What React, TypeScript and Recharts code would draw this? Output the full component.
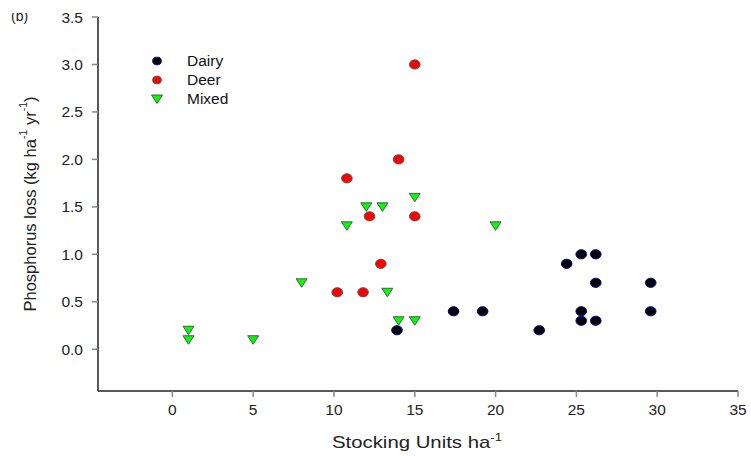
import { ScatterChart, Scatter, XAxis, YAxis, Label } from "recharts";

const FONT = '"Liberation Sans", Arial, sans-serif';

// Dairy farms
const dairyX = [13.9, 17.4, 19.2, 22.7, 24.4, 25.3, 26.2, 26.2, 29.6, 25.3, 29.6, 25.3, 26.2];
const dairyY = [0.2, 0.4, 0.4, 0.2, 0.9, 1.0, 1.0, 0.7, 0.7, 0.4, 0.4, 0.3, 0.3];

// Deer farms
const deerX = [10.8, 12.2, 15.0, 12.9, 10.2, 11.8, 14.0, 15.0];
const deerY = [1.8, 1.4, 1.4, 0.9, 0.6, 0.6, 2.0, 3.0];

// Mixed farms
const mixedX = [15.0, 12.0, 13.0, 10.8, 8.0, 13.3, 14.0, 15.0, 1.0, 1.0, 5.0, 20.0];
const mixedY = [1.6, 1.5, 1.5, 1.3, 0.7, 0.6, 0.3, 0.3, 0.2, 0.1, 0.1, 1.3];

const xTicks = [0, 5, 10, 15, 20, 25, 30, 35];
const yTicks = [0, 0.5, 1, 1.5, 2, 2.5, 3, 3.5];

const toPoints = (xs: number[], ys: number[]) => xs.map((x, i) => ({ x, y: ys[i] }));

const dairy = toPoints(dairyX, dairyY);
const deer = toPoints(deerX, deerY);
const mixed = toPoints(mixedX, mixedY);

const circle = (fill: string, stroke: string, rx = 5.3, ry = 4.6) => (props: any) => (
  <ellipse cx={props.cx} cy={props.cy} rx={rx} ry={ry} fill={fill} stroke={stroke} strokeWidth={1} />
);

const triangle = (fill: string, stroke: string) => (props: any) => {
  const { cx, cy } = props;
  return (
    <polygon
      points={`${cx - 5.5},${cy - 4} ${cx + 5.5},${cy - 4} ${cx},${cy + 4.5}`}
      fill={fill}
      stroke={stroke}
      strokeWidth={1}
    />
  );
};

const dairyShape = circle("#000000", "#0000a0");
const deerShape = circle("#ff0000", "#555555");
const mixedShape = triangle("#00ff00", "#555555");

const legendItems = [
  { name: "Dairy", shape: circle("#000000", "#0000a0", 4.3, 3.8) },
  { name: "Deer", shape: circle("#ff0000", "#555555", 4.3, 3.8) },
  { name: "Mixed", shape: mixedShape },
];

// legend drawn as plain html so it doesn't eat chart space
const ChartLegend = () => (
  <div style={{ position: "absolute", top: 51, left: 150, fontFamily: FONT, fontSize: 15.5, color: "#111" }}>
    {legendItems.map((item) => (
      <div key={item.name} style={{ display: "flex", alignItems: "center", height: 19 }}>
        <svg width={14} height={12}>
          {item.shape({ cx: 7, cy: 6 })}
        </svg>
        <span style={{ marginLeft: 23 }}>{item.name}</span>
      </div>
    ))}
  </div>
);

const tickStyle = { fontFamily: FONT, fontSize: 15.5, fill: "#222" };

export default function App() {
  return (
    <div style={{ position: "absolute", top: 13, left: 0, width: 751, height: 443, overflow: "hidden", background: "#fff" }}>
      <div style={{ position: "absolute", top: -13, left: 0, width: 751, height: 456 }}>
        <span style={{ position: "absolute", left: 11, top: 8, fontFamily: FONT, fontSize: 14, color: "#222" }}>(b)</span>
        <ScatterChart width={751} height={456} margin={{ top: 17, right: 13, bottom: 0, left: 0 }}>
          <XAxis
            type="number"
            dataKey="x"
            domain={[-4.6, 35]}
            ticks={xTicks}
            allowDataOverflow
            height={65}
            tickSize={6}
            tickMargin={7}
            axisLine={{ stroke: "#222", strokeWidth: 1.5 }}
            tickLine={{ stroke: "#888", strokeWidth: 1.5 }}
            tick={tickStyle}
          >
            <Label
              content={() => (
                <text
                  x={332}
                  y={448}
                  textLength={170}
                  lengthAdjust="spacingAndGlyphs"
                  fontFamily={FONT}
                  fontSize={17}
                  fill="#222"
                >
                  Stocking Units ha
                  <tspan dy={-7} fontSize={11}>-1</tspan>
                </text>
              )}
            />
          </XAxis>
          <YAxis
            type="number"
            dataKey="y"
            domain={[-0.44, 3.5]}
            ticks={yTicks}
            allowDataOverflow
            width={98}
            tickSize={6}
            tickMargin={9}
            tickFormatter={(v: number) => v.toFixed(1)}
            axisLine={{ stroke: "#222", strokeWidth: 1.5 }}
            tickLine={{ stroke: "#888", strokeWidth: 1.5 }}
            tick={tickStyle}
          >
            <Label
              content={() => (
                <text
                  x={30}
                  y={204}
                  transform="rotate(-90, 30, 204)"
                  textAnchor="middle"
                  dominantBaseline="central"
                  fontFamily={FONT}
                  fontSize={16.5}
                  fill="#222"
                >
                  Phosphorus loss (kg ha
                  <tspan dy={-7} fontSize={10.5}>-1</tspan>
                  <tspan dy={7}> yr</tspan>
                  <tspan dy={-7} fontSize={10.5}>-1</tspan>
                  <tspan dy={7}>)</tspan>
                </text>
              )}
            />
          </YAxis>
          <Scatter name="Dairy" data={dairy} shape={dairyShape} isAnimationActive={false} />
          <Scatter name="Mixed" data={mixed} shape={mixedShape} isAnimationActive={false} />
          <Scatter name="Deer" data={deer} shape={deerShape} isAnimationActive={false} />
        </ScatterChart>
        <ChartLegend />
      </div>
    </div>
  );
}
